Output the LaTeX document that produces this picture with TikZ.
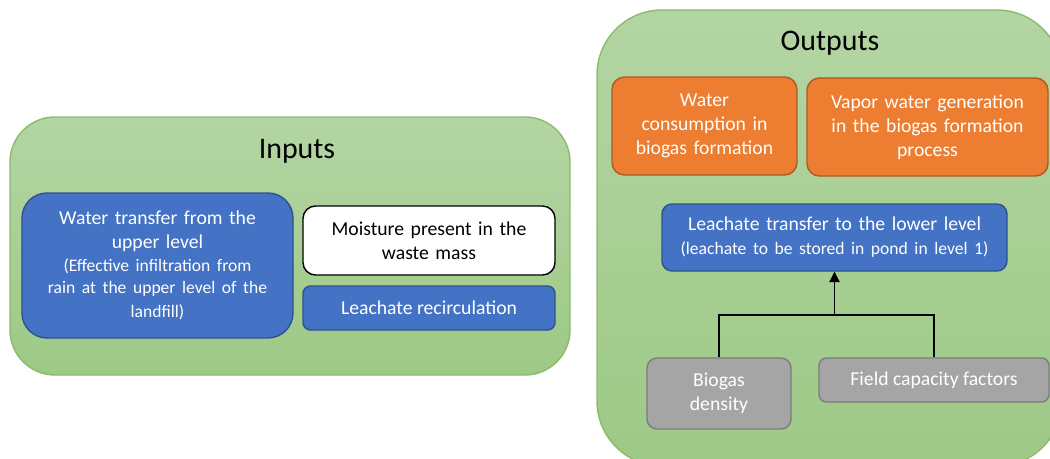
\documentclass[tikz,border=0pt]{standalone}
\usepackage{fontspec}
\setmainfont{Carlito}
\usetikzlibrary{arrows.meta}

\definecolor{greenfill}{HTML}{B3D5A3}
\definecolor{greenfilldark}{HTML}{9DC986}
\definecolor{greenline}{HTML}{8CBB6E}
\definecolor{bluefill}{HTML}{4472C4}
\definecolor{blueline}{HTML}{2F528F}
\definecolor{orangefill}{HTML}{ED7D31}
\definecolor{orangeline}{HTML}{AE5A21}
\definecolor{grayfill}{HTML}{A5A5A5}
\definecolor{grayline}{HTML}{7C7C7C}

\tikzset{
  container/.style={draw=greenline, thick, top color=greenfill, bottom color=greenfilldark,
    inner sep=0pt},
  title/.style={font=\fontsize{17}{20}\selectfont},
  box/.style={draw, thick, inner sep=0pt, align=center, text=white,
    font=\fontsize{11.2}{13.6}\selectfont},
  bluebox/.style={box, fill=bluefill, draw=blueline},
  orangebox/.style={box, fill=orangefill, draw=orangeline},
  graybox/.style={box, fill=grayfill, draw=grayline},
  whitebox/.style={box, fill=white, draw=black, text=black},
  small/.style={font=\fontsize{10}{12.8}\selectfont}
}

\begin{document}
\begin{tikzpicture}
  \clip (0,0) rectangle (21,-9.18);

  % inputs
  \node[container, rounded corners=0.9cm, minimum width=11.2cm, minimum height=5.16cm] (Inputs) at (5.8,-4.92) {};
  \node[title] (InputsTitle) at (5.94,-3.02) {Inputs};

  \node[bluebox, rounded corners=0.5cm, minimum width=5.42cm, minimum height=2.9cm, text width=5.3cm] (Upper) at (3.15,-5.31)
    {Water transfer from the\\upper level\\{\fontsize{10}{12.8}\selectfont (Effective infiltration from\\rain at the upper level of the\\landfill)}};
  \node[whitebox, rounded corners=0.25cm, minimum width=5.04cm, minimum height=1.38cm, text width=4.9cm] (Moisture) at (8.58,-4.81)
    {Moisture present in the\\waste mass};
  \node[bluebox, rounded corners=0.15cm, minimum width=5.04cm, minimum height=0.88cm] (Recirc) at (8.58,-6.16)
    {Leachate recirculation};

  % outputs
  \node[container, rounded corners=1.3cm, minimum width=9.3cm, minimum height=9.12cm] (Outputs) at (16.59,-4.76) {};
  \node[title] (OutputsTitle) at (16.6,-0.86) {Outputs};

  \node[orangebox, rounded corners=0.25cm, minimum width=3.7cm, minimum height=1.96cm, text width=3.6cm] (Consumption) at (14.09,-2.52)
    {Water\\consumption in\\biogas formation};
  \node[orangebox, rounded corners=0.25cm, minimum width=4.82cm, minimum height=1.96cm, text width=4.7cm] (Vapor) at (18.55,-2.54)
    {Vapor water generation\\in the biogas formation\\process};

  \node[bluebox, rounded corners=0.2cm, minimum width=6.9cm, minimum height=1.34cm, text width=6.8cm] (Lower) at (16.69,-4.75)
    {Leachate transfer to the lower level\\{\fontsize{10}{12.8}\selectfont (leachate to be stored in pond in level 1)}};

  \node[graybox, rounded corners=0.2cm, minimum width=2.88cm, minimum height=1.42cm, text width=2.7cm] (Density) at (14.38,-7.87)
    {Biogas\\density};
  \node[graybox, rounded corners=0.15cm, minimum width=4.6cm, minimum height=0.88cm] (Field) at (18.68,-7.6)
    {Field capacity factors};

  \coordinate (Join) at (16.69,-6.3);
  \draw[semithick] (Density.north) |- (Join) -| (Field.north);
  \draw[semithick,-{Triangle[length=6pt,width=6pt]}] (Join) to (Lower.south);

\end{tikzpicture}
\end{document}
